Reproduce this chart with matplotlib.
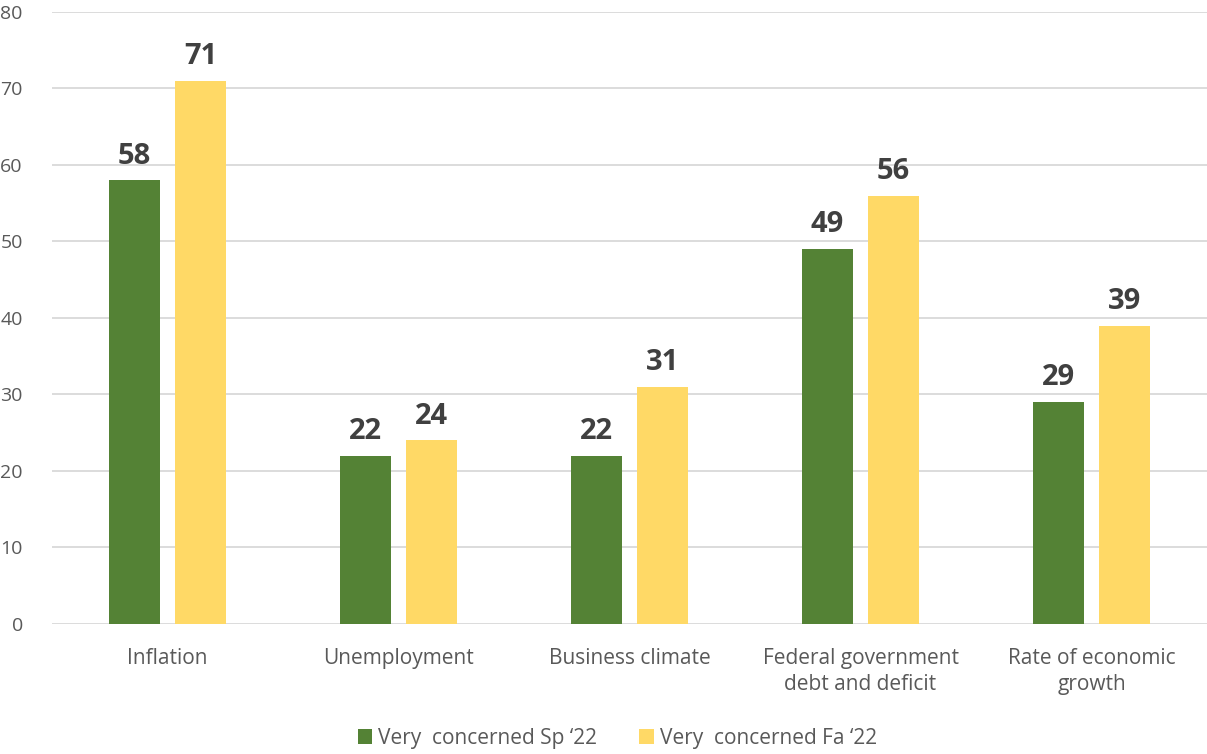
import numpy as np
import matplotlib.pyplot as plt

# concern levels by issue, two survey waves
categories = ["Inflation", "Unemployment", "Business climate",
              "Federal government\ndebt and deficit", "Rate of economic\ngrowth"]
spring_22 = [58, 22, 22, 49, 29]
fall_22 = [71, 24, 31, 56, 39]
series_names = ["Very  concerned Sp \u201822", "Very  concerned Fa \u201822"]

plt.rcParams['font.family'] = ['Open Sans', 'DejaVu Sans']

fig = plt.figure(figsize=(12.07, 7.54), dpi=100)
ax = fig.add_axes([0.0431, 0.1724, 0.9569, 0.8118])

x = np.arange(len(categories))
w = 0.22
off = 0.143
b1 = ax.bar(x - off, spring_22, w, color="#548235", label=series_names[0], zorder=3)
b2 = ax.bar(x + off, fall_22, w, color="#FFD966", label=series_names[1], zorder=3)

for bars in (b1, b2):
    ax.bar_label(bars, padding=7, fontsize=21, fontweight="bold", color="#404040")

ax.set_xlim(-0.5, len(categories) - 0.5)
ax.set_ylim(0, 80)
ax.set_yticks(range(0, 81, 10))
ax.yaxis.grid(True, color="#d9d9d9", lw=1.3, zorder=0)
for s in ax.spines.values():
    s.set_visible(False)
ax.tick_params(axis="both", length=0, colors="#595959")
ax.tick_params(axis="y", pad=21, labelsize=14)
ax.tick_params(axis="x", pad=17)
ax.set_xticks(x)
ax.set_xticklabels(categories, fontsize=15, linespacing=1.35)

fig.legend(handles=[b1, b2], labels=series_names, loc="center",
           bbox_to_anchor=(0.5115, 0.021), ncol=2, frameon=False,
           fontsize=15, labelcolor="#595959", handlelength=0.7,
           handleheight=0.7, handletextpad=0.3, columnspacing=2.0)

fig.savefig("out.png", dpi=100)
